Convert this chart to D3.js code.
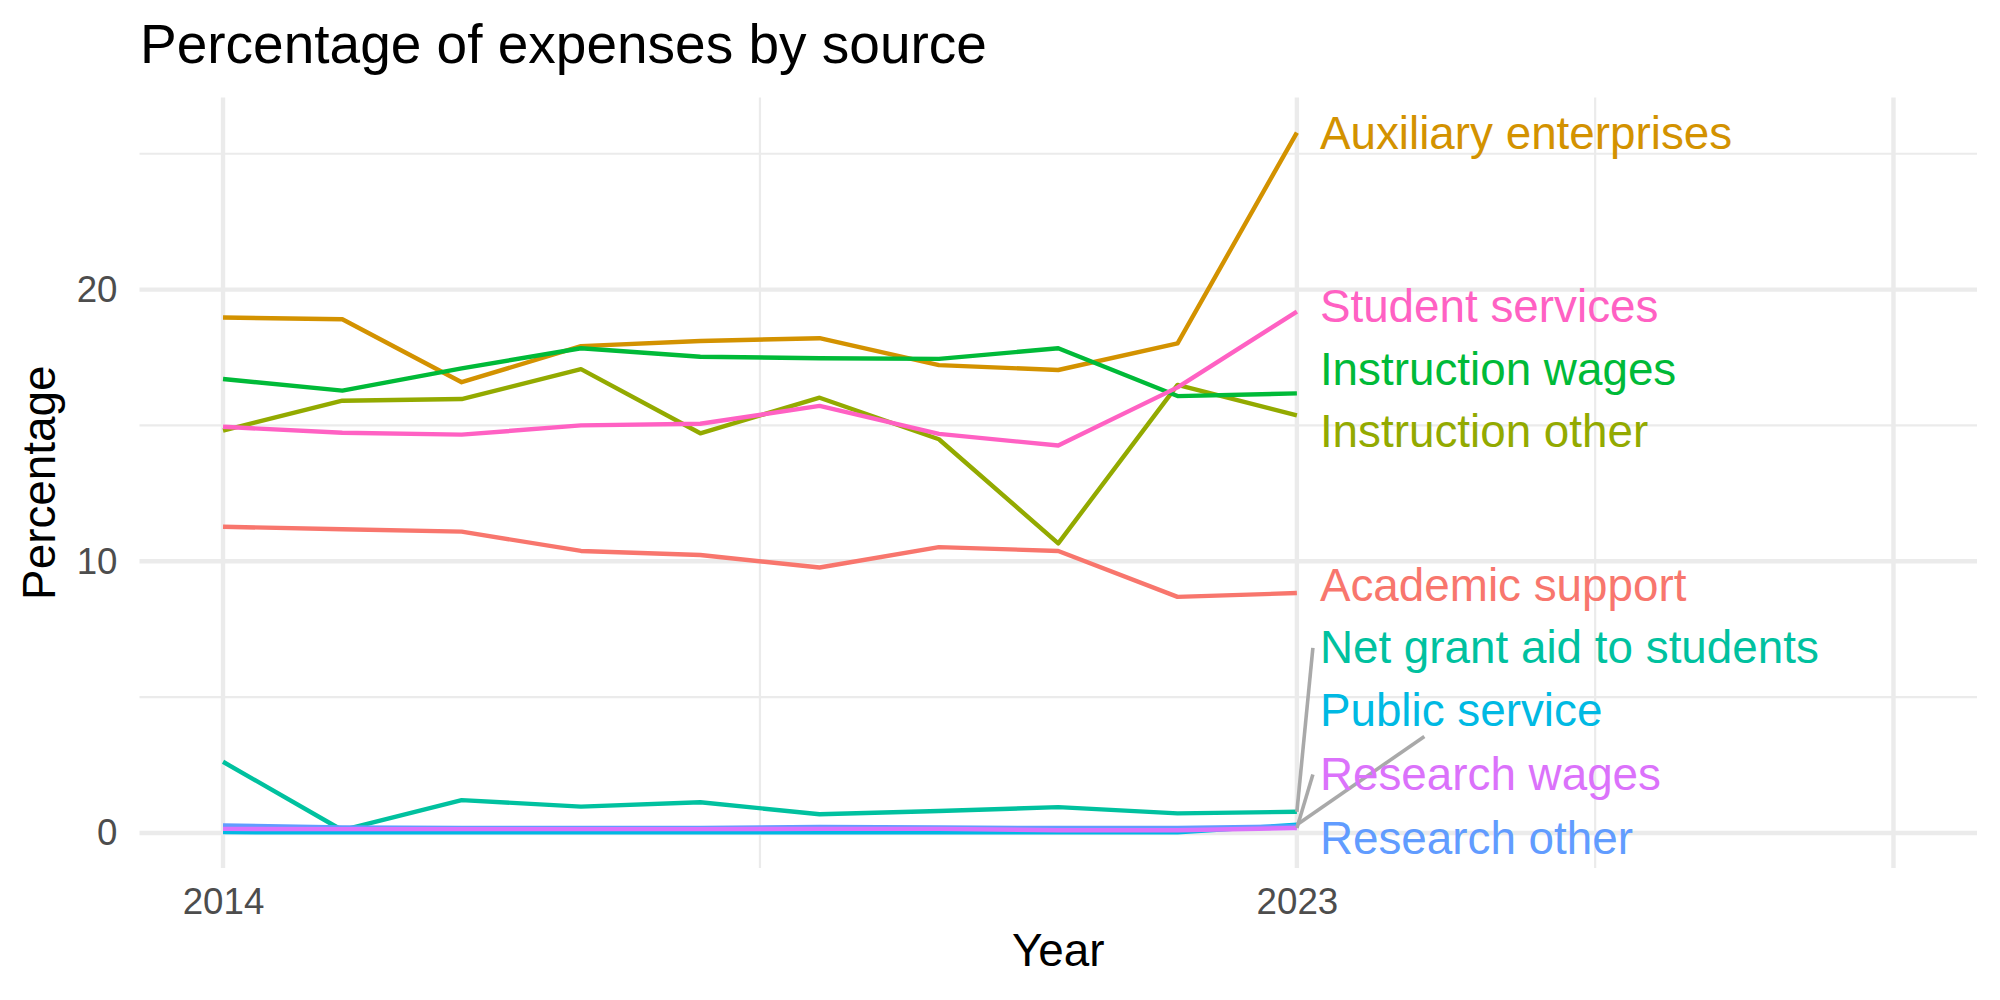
<!DOCTYPE html>
<html>
<head>
<meta charset="utf-8">
<script src="https://cdn.jsdelivr.net/npm/d3@7"></script>
<style>
    body { margin: 0; background: #fff; }
    text { font-family: "Liberation Sans", Arial, sans-serif; }
</style>
</head>
<body>
<svg id="chart" width="2000" height="1000"></svg>
<script>
// years on the x axis
const years = [2014, 2015, 2016, 2017, 2018, 2019, 2020, 2021, 2022, 2023];

// series names (ggplot draws them in this order)
const sources = ["Academic support", "Auxiliary enterprises", "Instruction other",
    "Instruction wages", "Net grant aid to students", "Public service",
    "Research other", "Research wages", "Student services"];

const colors = ["#F8766D", "#D39200", "#93AA00", "#00BA38", "#00C19F",
    "#00B9E3", "#619CFF", "#DB72FB", "#FF61C3"];

// percentage values, one array per source
const academicSupport = [11.27, 11.18, 11.09, 10.38, 10.23, 9.77, 10.52, 10.38, 8.69, 8.83];
const auxiliary = [18.97, 18.91, 16.59, 17.92, 18.11, 18.21, 17.22, 17.04, 18.02, 25.78];
const instructionOther = [14.81, 15.91, 15.97, 17.07, 14.71, 16.02, 14.49, 10.66, 16.49, 15.37];
const instructionWages = [16.71, 16.28, 17.10, 17.84, 17.53, 17.47, 17.45, 17.84, 16.08, 16.18];
const netGrantAid = [2.62, 0.10, 1.21, 0.97, 1.13, 0.69, 0.81, 0.95, 0.72, 0.78];
const publicService = [0.03, 0.02, 0.02, 0.02, 0.02, 0.02, 0.02, 0.02, 0.02, 0.30];
const researchOther = [0.28, 0.20, 0.18, 0.18, 0.18, 0.22, 0.20, 0.18, 0.18, 0.24];
const researchWages = [0.15, 0.14, 0.14, 0.14, 0.14, 0.15, 0.15, 0.10, 0.10, 0.18];
const studentServices = [14.95, 14.73, 14.66, 15.00, 15.06, 15.72, 14.69, 14.26, 16.40, 19.19];

const seriesValues = [academicSupport, auxiliary, instructionOther, instructionWages,
    netGrantAid, publicService, researchOther, researchWages, studentServices];

// where the repelled labels ended up (in percent)
const labelY = [9.11, 25.78, 14.80, 17.09, 6.83, 4.51, -0.18, 2.17, 19.40];
// how the connector meets the label box (null = no connector)
const segmentMode = [null, null, null, null, "left", "center", null, "left", null];

// axis breaks
const xBreaks = [2014, 2023, 2028];
const xBreakLabels = ["2014", "2023", ""];
const xMinor = [2018.5, 2025.5];
const yBreaks = [0, 10, 20];
const yMinor = [5, 15, 25];

let svg = d3.select("#chart");

let panel = {left: 139.5, right: 1977, top: 97.5, bottom: 868};

let x = d3.scaleLinear().domain([2013.3, 2028.7]).range([panel.left, panel.right]);
let y = d3.scaleLinear().domain([-1.29, 27.07]).range([panel.bottom, panel.top]);

// grid
let grid = svg.append("g");
grid.selectAll(".hminor").data(yMinor).enter().append("line")
    .attr("x1", panel.left).attr("x2", panel.right)
    .attr("y1", d => y(d)).attr("y2", d => y(d))
    .attr("stroke", "#EBEBEB").attr("stroke-width", 2.2);
grid.selectAll(".vminor").data(xMinor).enter().append("line")
    .attr("x1", d => x(d)).attr("x2", d => x(d))
    .attr("y1", panel.top).attr("y2", panel.bottom)
    .attr("stroke", "#EBEBEB").attr("stroke-width", 2.2);
grid.selectAll(".hmajor").data(yBreaks).enter().append("line")
    .attr("x1", panel.left).attr("x2", panel.right)
    .attr("y1", d => y(d)).attr("y2", d => y(d))
    .attr("stroke", "#EBEBEB").attr("stroke-width", 4.4);
grid.selectAll(".vmajor").data(xBreaks).enter().append("line")
    .attr("x1", d => x(d)).attr("x2", d => x(d))
    .attr("y1", panel.top).attr("y2", panel.bottom)
    .attr("stroke", "#EBEBEB").attr("stroke-width", 4.4);

// axes (text only, theme_minimal has no ticks or axis line)
let xAxis = svg.append("g")
    .attr("transform", "translate(0," + panel.bottom + ")")
    .call(d3.axisBottom(x).tickValues(xBreaks).tickSize(0).tickPadding(20)
        .tickFormat((d, i) => xBreakLabels[i]));
let yAxis = svg.append("g")
    .attr("transform", "translate(" + (panel.left - 12) + ",0)")
    .call(d3.axisLeft(y).tickValues(yBreaks).tickSize(0).tickPadding(10));
[xAxis, yAxis].forEach(a => {
    a.select(".domain").remove();
    a.selectAll("text")
        .attr("font-family", "Liberation Sans, Arial, sans-serif")
        .attr("font-size", 36.7)
        .attr("fill", "#4D4D4D");
});

// lines
let line = d3.line()
    .x((d, i) => x(years[i]))
    .y(d => y(d));

svg.append("g").selectAll("path")
    .data(seriesValues).enter().append("path")
    .attr("d", d => line(d))
    .attr("fill", "none")
    .attr("stroke", (d, i) => colors[i])
    .attr("stroke-width", 4.4)
    .attr("stroke-linejoin", "round");

// labels at the end of each line
let lastYear = years[years.length - 1];
let segLayer = svg.append("g");
let labels = svg.append("g").selectAll("text")
    .data(sources).enter().append("text")
    .attr("x", x(lastYear) + 23)
    .attr("y", (d, i) => y(labelY[i]))
    .attr("dy", "0.35em")
    .attr("font-size", 45.8)
    .attr("fill", (d, i) => colors[i])
    .text(d => d);

// connector segments
let pad = 7;
labels.each(function (d, i) {
    if (!segmentMode[i]) return;
    let b = this.getBBox();
    let px = x(lastYear), py = y(seriesValues[i][seriesValues[i].length - 1]);
    let ex, ey;
    if (segmentMode[i] === "left") {
        ex = b.x - pad;
        ey = b.y + b.height / 2;
    } else {
        // clip the line toward the box centre at the box bottom
        let cx = b.x + b.width / 2, cy = b.y + b.height / 2;
        let bottom = b.y + b.height;
        let t = (py - bottom) / (py - cy);
        ex = px + t * (cx - px);
        ey = bottom;
    }
    segLayer.append("line")
        .attr("x1", px).attr("y1", py)
        .attr("x2", ex).attr("y2", ey)
        .attr("stroke", "#A9A9A9")
        .attr("stroke-width", 3.6);
});

// titles
svg.append("text")
    .attr("x", 140).attr("y", 63)
    .attr("font-size", 55)
    .attr("fill", "#000")
    .text("Percentage of expenses by source");

svg.append("text")
    .attr("x", (panel.left + panel.right) / 2).attr("y", 966)
    .attr("text-anchor", "middle")
    .attr("font-size", 45.8)
    .text("Year");

svg.append("text")
    .attr("transform", "translate(55," + ((panel.top + panel.bottom) / 2) + ") rotate(-90)")
    .attr("text-anchor", "middle")
    .attr("font-size", 45.8)
    .text("Percentage");
</script>
</body>
</html>
